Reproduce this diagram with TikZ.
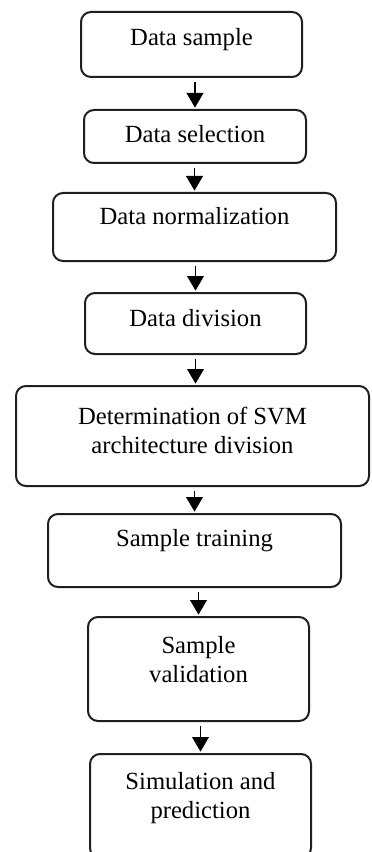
\documentclass[tikz,border=0pt]{standalone}
\usepackage{fontspec}
\setmainfont{Liberation Serif}
\usetikzlibrary{arrows.meta}
\tikzset{
  stage/.style = {rectangle, draw=black!88, line width=1.5pt,
    rounded corners=7.5pt, inner sep=0pt},% box of one step
  stagetext/.style = {anchor=north, align=center, inner sep=0pt,
    font=\fontsize{18.5}{21.75}\selectfont},% text at top of a box
  flow/.style = {-{Triangle[width=12.5pt,length=11pt]}, line width=1.3pt,
    shorten <=3pt, shorten >=1pt}% arrow between steps
}

\begin{document}
\begin{tikzpicture}[x=0.75pt,y=-0.75pt]
    \useasboundingbox (0,0) rectangle (371,852);
    \clip (0,0) rectangle (371,852);
    \node [stage, minimum width=165.75pt, minimum height=48.75pt,
      label={[stagetext, name=t1, yshift=-12.75pt]north:Data sample}] (b1) at (191.5,44.5) {};
    \node [stage, minimum width=166.5pt, minimum height=39.75pt,
      label={[stagetext, name=t2, yshift=-12pt]north:Data selection}] (b2) at (195,136.5) {};
    \node [stage, minimum width=212.25pt, minimum height=51pt,
      label={[stagetext, name=t3, yshift=-11.6pt]north:Data normalization}] (b3) at (194.5,227) {};
    \node [stage, minimum width=165.75pt, minimum height=45.75pt,
      label={[stagetext, name=t4, yshift=-13.1pt]north:Data division}] (b4) at (195.5,323.5) {};
    \node [stage, minimum width=264.75pt, minimum height=75pt,
      label={[stagetext, name=t5, yshift=-16.5pt]north:Determination of SVM\\architecture division}] (b5) at (192.5,436) {};
    \node [stage, minimum width=219.75pt, minimum height=54.75pt,
      label={[stagetext, name=t6, yshift=-12.4pt]north:Sample training}] (b6) at (194.5,550.5) {};
    \node [stage, minimum width=165.75pt, minimum height=78pt,
      label={[stagetext, name=t7, yshift=-15pt]north:Sample\\validation}] (b7) at (198.5,669) {};
    \node [stage, minimum width=165.75pt, minimum height=78pt,
      label={[stagetext, name=t8, yshift=-14.6pt]north:Simulation and\\prediction}] (b8) at (200.5,806) {};
    % arrows
    \draw [flow] (b1.south -| b2.north) -- (b2.north);
    \draw [flow] (b2.south -| b3.north) -- (b3.north);
    \draw [flow] (b3.south -| b4.north) -- (b4.north);
    \draw [flow] (b4.south) -- (b4.south |- b5.north);
    \draw [flow] (b5.south -| b6.north) -- (b6.north);
    \draw [flow] (b6.south -| b7.north) -- (b7.north);
    \draw [flow] (b7.south -| b8.north) -- (b8.north);
\end{tikzpicture}
\end{document}
